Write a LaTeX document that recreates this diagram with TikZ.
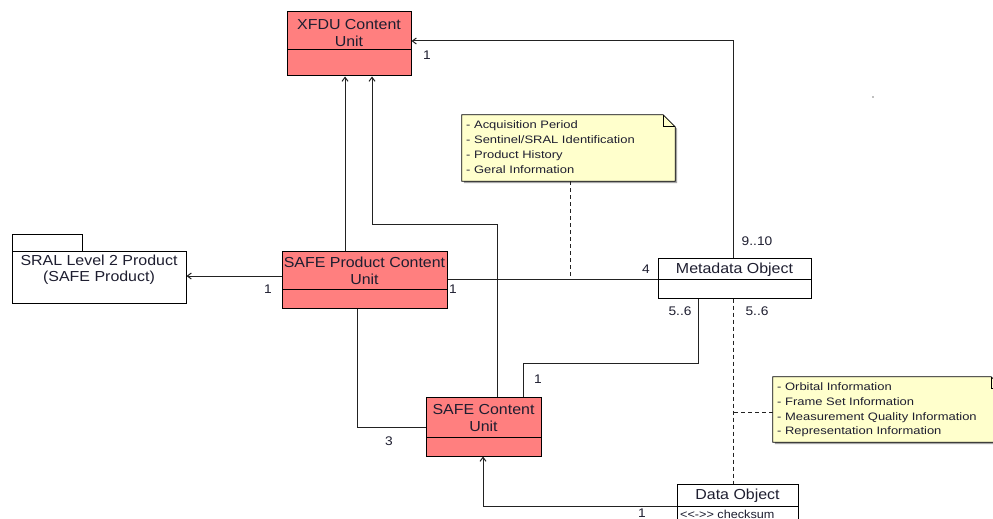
\documentclass[tikz,border=0pt]{standalone}
\usepackage{fontspec}
\setmainfont{Liberation Sans}
\newfontfamily\boxfont[FakeStretch=1.1]{Liberation Sans}
\newfontfamily\notefont[FakeStretch=1.2]{Liberation Sans}
\usetikzlibrary{arrows.meta,calc}
\definecolor{clsred}{HTML}{FF7F7F}
\definecolor{notey}{HTML}{FFFFCC}
\definecolor{txt}{HTML}{1E1E30}
\definecolor{lnc}{HTML}{222222}
\tikzset{
  cls/.style={draw=black, fill=clsred, line width=1pt, rectangle, inner sep=0pt},
  obj/.style={draw=black, fill=white, line width=1pt, rectangle, inner sep=0pt},
  ttl/.style={font=\fontsize{14.5}{16.5}\boxfont, text=txt, align=center, inner sep=0pt},
  lbl/.style={font=\fontsize{12.5}{14}\boxfont, text=txt, inner sep=0pt},
  ntxt/.style={font=\fontsize{10.8}{15}\notefont, text=txt, inner sep=0pt, anchor=base west},
  conn/.style={draw=lnc, line width=1pt},
  arr/.style={conn, -{Straight Barb[length=4pt,width=6pt]}},
  dsh/.style={draw=lnc, line width=0.9pt, dash pattern=on 4pt off 3pt},
  hole/.style={inner sep=0pt, minimum size=0pt, draw=none},
}
\begin{document}
\begin{tikzpicture}[x=1pt, y=-1pt]
\useasboundingbox (0,0) rectangle (993,519);
\clip (0,0) rectangle (993,519);
\fill[white] (0,0) rectangle (993,519);

% ---- class boxes ----
\node[cls, minimum width=124pt, minimum height=64pt] (xfdu) at (349,44) {};
\draw[line width=1pt] (287,50) -- (411,50);
\node[ttl] (xfduT) at (349,33) {XFDU Content\\Unit};

\node[cls, minimum width=165pt, minimum height=57pt] (spcu) at (364.5,279.5) {};
\draw[line width=1pt] (282,289) -- (447,289);
\node[ttl] (spcuT) at (364.5,271) {SAFE Product Content\\Unit};

\node[cls, minimum width=115pt, minimum height=59pt] (scu) at (483.5,426.5) {};
\draw[line width=1pt] (426,437) -- (541,437);
\node[ttl] (scuT) at (483.5,418) {SAFE Content\\Unit};

\node[obj, minimum width=153pt, minimum height=40pt] (meta) at (734.5,278) {};
\draw[line width=1pt] (658,279) -- (811,279);
\node[ttl] (metaT) at (734.5,269.5) {Metadata Object};

\node[obj, minimum width=121pt, minimum height=52pt] (dobj) at (737.5,510) {};
\draw[line width=1pt] (677,506.5) -- (798,506.5);
\node[ttl] (dobjT) at (737.5,496) {Data Object};
\node[font=\fontsize{11.5}{13}\boxfont, text=txt, inner sep=0pt, anchor=base west] (dobjA) at (680,518.5) {<<->> checksum};

% ---- package ----
\draw[line width=1pt, fill=white] (12,251) -- (12,234) -- (82,234) -- (82,251);
\node[obj, minimum width=174pt, minimum height=52pt] (pkg) at (99,277) {};
\node[ttl] (pkgT) at (99,269.5) {SRAL Level 2 Product\\(SAFE Product)};

% ---- notes ----
\node[hole, minimum width=213pt, minimum height=66pt] (n1) at (568.5,148) {};
\fill[gray!70] ($(n1.north west)+(2,2)$) -- ($(n1.north east)+(-10,2)$) -- ($(n1.north east)+(2,14)$) -- ($(n1.south east)+(2,2)$) -- ($(n1.south west)+(2,2)$) -- cycle;
\draw[line width=0.8pt, fill=notey] (n1.north west) -- ($(n1.north east)+(-12,0)$) -- ($(n1.north east)+(0,12)$) -- (n1.south east) -- (n1.south west) -- cycle;
\draw[line width=0.8pt] ($(n1.north east)+(-12,0)$) -- ($(n1.north east)+(-12,12)$) -- ($(n1.north east)+(0,12)$);
\node[ntxt] (n1a) at (466,128) {- Acquisition Period};
\node[ntxt] (n1b) at (466,143) {- Sentinel/SRAL Identification};
\node[ntxt] (n1c) at (466,158) {- Product History};
\node[ntxt] (n1d) at (466,173) {- Geral Information};

\node[hole, minimum width=230pt, minimum height=65pt] (n2) at (888,409.5) {};
\fill[gray!70] ($(n2.north west)+(2,2)$) -- ($(n2.north east)+(-10,2)$) -- ($(n2.north east)+(2,14)$) -- ($(n2.south east)+(2,2)$) -- ($(n2.south west)+(2,2)$) -- cycle;
\draw[line width=0.8pt, fill=notey] (n2.north west) -- ($(n2.north east)+(-12,0)$) -- ($(n2.north east)+(0,12)$) -- (n2.south east) -- (n2.south west) -- cycle;
\draw[line width=0.8pt] ($(n2.north east)+(-12,0)$) -- ($(n2.north east)+(-12,12)$) -- ($(n2.north east)+(0,12)$);
\node[ntxt] (n2a) at (777,390) {- Orbital Information};
\node[ntxt] (n2b) at (777,405) {- Frame Set Information};
\node[ntxt] (n2c) at (777,420) {- Measurement Quality Information};
\node[ntxt] (n2d) at (777,434) {- Representation Information};

% ---- connectors ----
\draw[arr] (spcu.north -| 345,0) -- (xfdu.south -| 345,0);
\draw[arr] (scu.north -| 497,0) |- (372,224) -- (xfdu.south -| 372,0);
\draw[arr] (meta.north -| 733,0) |- (xfdu.east |- 0,41);
\draw[arr] (spcu.west |- 0,276) -- (pkg.east |- 0,276);
\draw[conn] (spcu.east |- 0,279) -- (meta.west |- 0,279);
\coordinate (j1) at (570,279);
\draw[dsh] (n1.south -| 570,0) -- (j1);
\draw[conn] (spcu.south -| 357,0) |- (scu.west |- 0,427);
\draw[conn] (scu.north -| 523,0) |- (698,363) -- (meta.south -| 698,0);
\draw[dsh] (meta.south -| 733,0) -- (dobj.north -| 733,0);
\coordinate (j2) at (733,412);
\draw[dsh] (n2.west |- 0,412) -- (j2);
\draw[arr] (dobj.west |- 0,506.5) -| (scu.south -| 483,0);

% ---- multiplicities ----
\node[lbl] (m1) at (427,55) {1};
\node[lbl] (m2) at (757,241) {9..10};
\node[lbl] (m3) at (646,269) {4};
\node[lbl] (m4) at (268,289) {1};
\node[lbl] (m5) at (453,289) {1};
\node[lbl] (m6) at (680,311) {5..6};
\node[lbl] (m7) at (757,311) {5..6};
\node[lbl] (m8) at (538,379) {1};
\node[lbl] (m9) at (389,441) {3};
\node[lbl] (m10) at (642,513) {1};

% stray dot
\fill[gray] (873,97) circle (0.9pt);
\end{tikzpicture}
\end{document}
